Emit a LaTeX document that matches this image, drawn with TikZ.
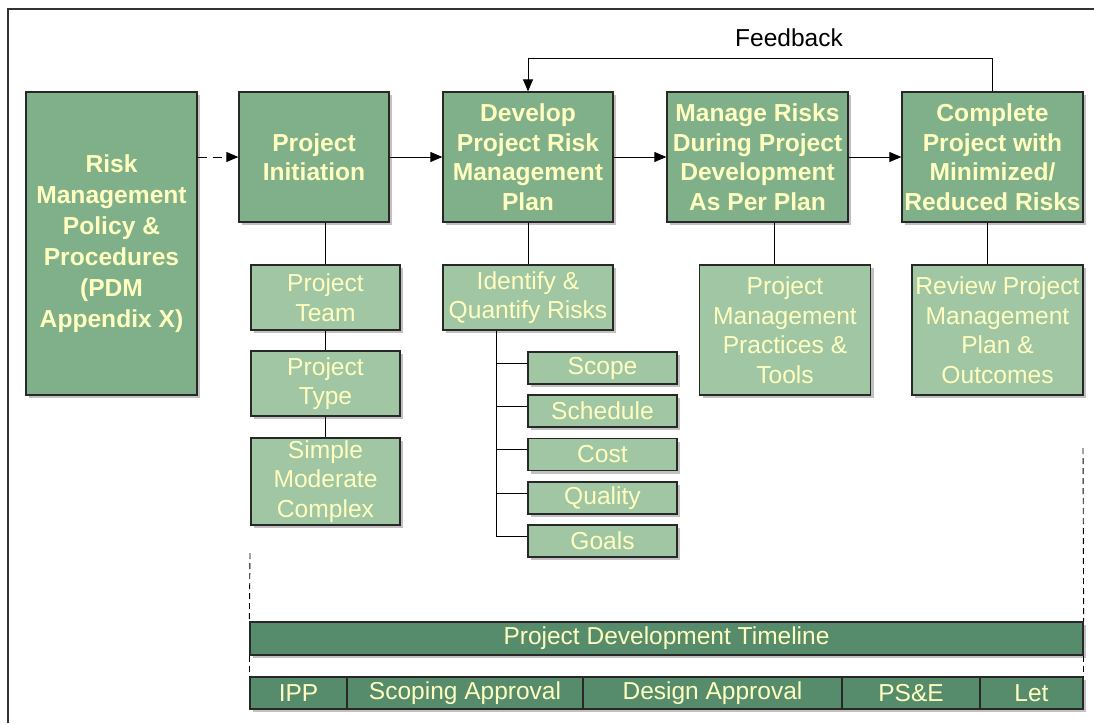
\documentclass[tikz,border=0pt]{standalone}
\usepackage{fontspec}
\setmainfont{Liberation Sans}
\usetikzlibrary{shadows,arrows.meta}
\definecolor{maingreen}{RGB}{128,176,138}
\definecolor{subgreen}{RGB}{160,198,164}
\definecolor{bargreen}{RGB}{86,140,108}
\definecolor{paleyellow}{RGB}{255,255,192}
\definecolor{edgecol}{RGB}{40,40,40}
\tikzset{
  boxbase/.style={draw=edgecol, line width=1.3pt, inner sep=0pt, align=center, text=paleyellow,
    drop shadow={shadow xshift=3pt, shadow yshift=-3pt, fill=black!35, opacity=0.7}},
  mainbox/.style={boxbase, fill=maingreen, font=\bfseries\fontsize{24.6}{29.5}\selectfont},
  subbox/.style={boxbase, fill=subgreen, font=\fontsize{24.6}{29.5}\selectfont},
  barbox/.style={boxbase, fill=bargreen, font=\fontsize{24.5}{27}\selectfont},
  conn/.style={draw=black, line width=0.9pt},
  arr/.style={conn, -{Triangle[length=12pt,width=10pt]}},
  guide/.style={draw=black, line width=0.9pt, dash pattern=on 6pt off 4pt}
}
\begin{document}
\begin{tikzpicture}[x=1pt,y=-1pt]
\useasboundingbox (0,0) rectangle (1094,723);
% frame
\draw[line width=1.4pt, draw=black!80] (8,723) -- (8,9) -- (1094,9);

% main boxes
\node[mainbox, minimum width=171pt, minimum height=303pt, font=\bfseries\fontsize{24.6}{31}\selectfont] (risk) at (111.5,243.5) {Risk\\Management\\Policy \&\\Procedures\\(PDM\\Appendix X)};
\node[mainbox, minimum width=150pt, minimum height=130pt] (init) at (314,157) {Project\\Initiation};
\node[mainbox, minimum width=170pt, minimum height=130pt] (dev) at (528,157) {Develop\\Project Risk\\Management\\Plan};
\node[mainbox, minimum width=181pt, minimum height=130pt] (man) at (757.5,157) {Manage Risks\\During Project\\Development\\As Per Plan};
\node[mainbox, minimum width=181pt, minimum height=130pt] (comp) at (992.5,157) {Complete\\Project with\\Minimized/\\Reduced Risks};

% sub boxes
\node[subbox, minimum width=149pt, minimum height=65pt] (team) at (325.5,297.5) {Project\\Team};
\node[subbox, minimum width=149pt, minimum height=65pt] (type) at (325.5,383.5) {Project\\Type};
\node[subbox, minimum width=149pt, minimum height=87pt] (smc) at (325.5,481.5) {Simple\\Moderate\\Complex};
\node[subbox, minimum width=170pt, minimum height=65pt] (idq) at (528,297.5) {Identify \&\\Quantify Risks};
\node[subbox, minimum width=149pt, minimum height=32pt] (scope) at (602.5,368) {Scope};
\node[subbox, minimum width=149pt, minimum height=32pt] (sched) at (602.5,411) {Schedule};
\node[subbox, minimum width=149pt, minimum height=32pt] (cost) at (602.5,454.5) {Cost};
\node[subbox, minimum width=149pt, minimum height=32pt] (qual) at (602.5,498) {Quality};
\node[subbox, minimum width=149pt, minimum height=32pt] (goals) at (602.5,541) {Goals};
\node[subbox, minimum width=171pt, minimum height=130pt] (pm) at (785,330) {Project\\Management\\Practices \&\\Tools};
\node[subbox, minimum width=171pt, minimum height=130pt] (rev) at (997.5,330) {Review Project\\Management\\Plan \&\\Outcomes};

% feedback label
\node[font=\fontsize{24.5}{27}\selectfont, text=black] (fb) at (789,38) {Feedback};

% connectors between main boxes
\draw[arr, dash pattern=on 9pt off 6pt] (risk.east |- init.west) -- (init.west);
\draw[arr] (init) -- (dev);
\draw[arr] (dev) -- (man);
\draw[arr] (man) -- (comp);
\draw[arr] (comp.north) -- ++(0,-33) -| (dev.north);

% vertical connectors
\draw[conn] (team.north) -- (team.north |- init.south);
\draw[conn] (team) -- (type);
\draw[conn] (type) -- (smc);
\draw[conn] (idq.north) -- (dev.south);
\draw[conn] (pm.north -| 774,0) -- (man.south -| 774,0);
\draw[conn] (rev.north -| 987,0) -- (comp.south -| 987,0);

% tree
\coordinate (trunk) at (496,0);
\draw[conn] (idq.south -| trunk) |- ([yshift=5pt]goals.west);
\foreach \b in {scope,sched,cost,qual}
  \draw[conn] ([yshift=5pt]\b.west -| trunk) -- ([yshift=5pt]\b.west);

% timeline
\coordinate (gl) at (250,553);
\coordinate (gr) at (1083,448);
\node[barbox, minimum width=833pt, minimum height=33pt] (tl) at (666.5,638.5) {Project Development Timeline};
\node[barbox, minimum width=97pt, minimum height=32pt] (ipp) at (298.5,693) {IPP};
\node[barbox, minimum width=236pt, minimum height=32pt] (scap) at (465,693) {Scoping Approval};
\node[barbox, minimum width=259pt, minimum height=32pt] (dap) at (712.5,693) {Design Approval};
\node[barbox, minimum width=138pt, minimum height=32pt] (pse) at (911,693) {PS\&E};
\node[barbox, minimum width=103pt, minimum height=32pt] (let) at (1031.5,693) {Let};
\draw[guide] (gl) -- (tl.north west);
\draw[guide] (tl.south west) -- (ipp.north west);
\draw[guide] (gr) -- (tl.north east);
\draw[guide] (tl.south east) -- (let.north east);
\end{tikzpicture}
\end{document}
